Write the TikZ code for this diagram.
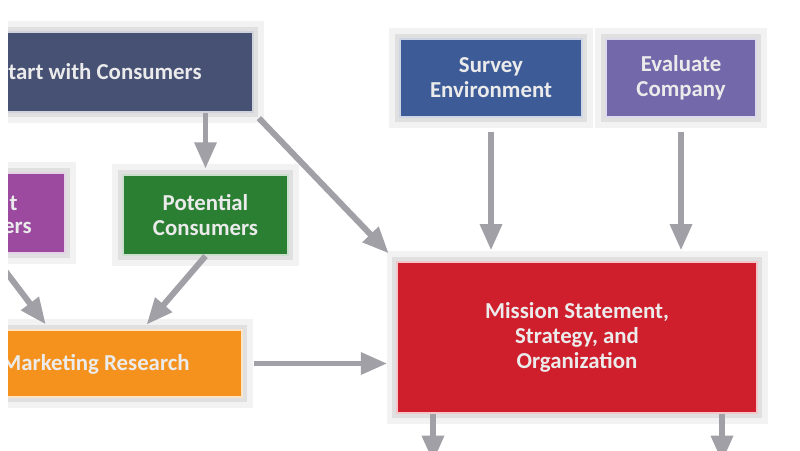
\documentclass[tikz,border=0pt]{standalone}
\usepackage{fontspec}
\setmainfont{Carlito}
\usetikzlibrary{arrows.meta}
\definecolor{navybox}{HTML}{475174}
\definecolor{surveyblue}{HTML}{3D5C97}
\definecolor{evalpurple}{HTML}{7268AA}
\definecolor{currentpurple}{HTML}{9B4A9F}
\definecolor{potgreen}{HTML}{2B7F33}
\definecolor{resorange}{HTML}{F5921E}
\definecolor{missionred}{HTML}{D01F2C}
\definecolor{arrowgray}{HTML}{A0A0A6}
\tikzset{
  box/.style={rectangle, inner sep=0pt, fill=#1, draw=white!75!#1, line width=1.2pt,
    preaction={draw=black!5, line width=12pt},
    preaction={draw=black!12, line width=6pt},
    text=white!92!black, font=\fontsize{13}{14.2}\selectfont\bfseries, align=center},
  txt/.style={inner sep=0pt, text=white!92!black, font=\fontsize{13}{14.2}\selectfont\bfseries},
  flow/.style={draw=arrowgray, line width=3.4pt, -{Triangle[length=15pt,width=12pt]}},
}

\begin{document}
\begin{tikzpicture}[x=0.02cm, y=-0.02cm]
    \useasboundingbox (0,0) rectangle (800,450);
    \clip (8,0) rectangle (800,450);
    % boxes
    \node[box=navybox, minimum width=6.04cm, minimum height=1.6cm] (start) at (102,72) {};
    \node[txt, anchor=east] (start-t) at (202,72) {tart with Consumers};
    \node[box=surveyblue, minimum width=3.64cm, minimum height=1.56cm] (survey) at (491,78) {Survey\\Environment};
    \node[box=evalpurple, minimum width=3cm, minimum height=1.56cm] (evaluate) at (681,78) {Evaluate\\Company};
    \node[box=currentpurple, minimum width=2.9cm, minimum height=1.6cm] (current) at (-7.5,213) {};
    \node[txt, anchor=east] (current-t1) at (18,203) {t};
    \node[txt, anchor=east] (current-t2) at (32,228) {ers};
    \node[box=potgreen, minimum width=3.3cm, minimum height=1.6cm] (potential) at (205.5,215) {Potential\\Consumers};
    \node[box=resorange, minimum width=6.24cm, minimum height=1.34cm] (research) at (86,363.5) {};
    \node[txt, anchor=east] (research-t) at (190,364) {Marketing Research};
    \node[box=missionred, minimum width=7.2cm, minimum height=3.02cm] (mission) at (577,337.5) {Mission Statement,\\Strategy, and\\Organization};
    % connectors
    \coordinate (rin1) at (50,330);
    \coordinate (rin2) at (142,330);
    \coordinate (out1) at (433,462);
    \coordinate (out2) at (722,462);
    \draw[flow, shorten >=3pt] (start.south -| potential.north) -- (potential.north);
    \draw[flow, shorten <=4pt, shorten >=6pt] (start.south east) -- (mission.north west);
    \foreach \n in {survey,evaluate} \draw[flow, shorten <=8pt, shorten >=6pt] (\n.south) -- (\n.south |- mission.north);
    \draw[flow, shorten >=4pt] (current.south) -- (rin1);
    \draw[flow, shorten >=4pt] (potential.south) -- (rin2);
    \draw[flow, shorten <=6pt, shorten >=5pt] (research.east) -- (research.east -| mission.west);
    \foreach \o in {out1,out2} \draw[flow] (mission.south -| \o) -- (\o);
  \end{tikzpicture}
\end{document}
